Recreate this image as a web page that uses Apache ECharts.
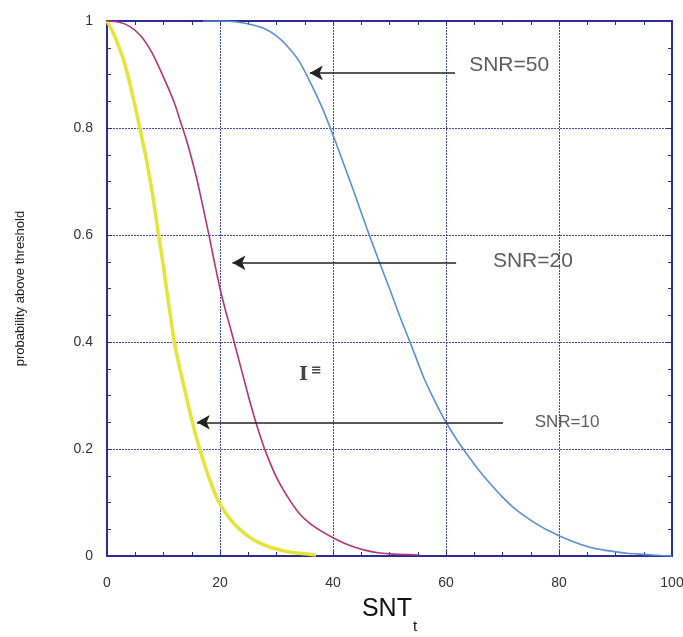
<!DOCTYPE html>
<html>
<head>
<meta charset="utf-8">
<script src="https://cdn.jsdelivr.net/npm/echarts@6/dist/echarts.min.js"></script>
<style>
  html, body { margin: 0; padding: 0; background: #fff; }
  #chart { width: 683px; height: 637px; }
</style>
</head>
<body>
<div id="chart"></div>
<script>
// curve points [SNT_t, probability]
var snr10 = [[0, 1], [1, 0.98], [2, 0.955], [3, 0.925], [4, 0.885], [5, 0.84], [6, 0.79], [7, 0.74],
  [8, 0.68], [9, 0.61], [10, 0.54], [11, 0.465], [12, 0.395], [13, 0.345], [14, 0.3], [15, 0.255],
  [16, 0.215], [17, 0.18], [18, 0.148], [19, 0.12], [20, 0.097], [22, 0.066], [24, 0.045],
  [26, 0.03], [28, 0.02], [30, 0.013], [32, 0.008], [34, 0.005], [37, 0.002]];
var snr20 = [[0, 1], [2, 0.998], [4, 0.99], [6, 0.972], [8, 0.94], [10, 0.895], [12, 0.845],
  [13, 0.812], [14, 0.78], [15, 0.742], [16, 0.7], [17, 0.652], [18, 0.602], [19, 0.55], [20, 0.5],
  [21, 0.458], [22, 0.42], [23, 0.38], [24, 0.34], [25, 0.3], [26, 0.262], [27, 0.228], [28, 0.197],
  [30, 0.147], [32, 0.11], [34, 0.08], [36, 0.06], [38, 0.046], [40, 0.034], [42, 0.024],
  [44, 0.016], [46, 0.01], [48, 0.006], [50, 0.004], [52, 0.003], [55, 0.002]];
var snr50 = [[17, 1], [20, 1], [23, 0.998], [26, 0.992], [28, 0.985], [30, 0.972], [32, 0.952],
  [34, 0.925], [36, 0.885], [38, 0.84], [40, 0.787], [42, 0.73], [44, 0.672], [46, 0.612],
  [48, 0.555], [50, 0.5], [52, 0.443], [54, 0.39], [56, 0.335], [58, 0.29], [60, 0.25],
  [62, 0.216], [64, 0.186], [66, 0.158], [68, 0.133], [70, 0.11], [72, 0.09], [74, 0.074],
  [76, 0.06], [78, 0.048], [80, 0.038], [82, 0.029], [84, 0.021], [86, 0.015], [88, 0.011],
  [90, 0.008], [92, 0.005], [95, 0.003], [98, 0.001], [100, 0]];

// arrows: [tail x, head x, y]  and labels: [x, y, text, font size]
var arrows = [[61.6, 35.9, 0.903], [61.8, 22.2, 0.548], [70.1, 15.9, 0.25]];
var arrowLabels = [[64.1, 0.918, 'SNR=50', 21], [68.3, 0.551, 'SNR=20', 21], [75.7, 0.25, 'SNR=10', 17]];

var xTicks = [0, 20, 40, 60, 80, 100];
var yTicks = [0, 0.2, 0.4, 0.6, 0.8, 1];

var frame = '#2c2c96';
var gridCol = '#4a4aa6';

var chart = echarts.init(document.getElementById('chart'));

function axisBase(isX, main) {
  return {
    type: 'value',
    min: 0,
    max: isX ? xTicks[xTicks.length - 1] : yTicks[yTicks.length - 1],
    interval: isX ? xTicks[1] - xTicks[0] : yTicks[1] - yTicks[0],
    axisLine: { show: true, onZero: false, lineStyle: { color: frame, width: 2 } },
    axisTick: { show: true, inside: true, length: 5, lineStyle: { color: frame, width: 1 } },
    minorTick: { show: true, splitNumber: 4, length: 4, lineStyle: { color: frame, width: 1 } },
    axisLabel: {
      show: main,
      color: '#333',
      fontFamily: 'Liberation Sans',
      fontSize: 14,
      margin: isX ? 20 : 14
    },
    splitLine: main ? { show: true, lineStyle: { color: gridCol, width: 1, type: [2, 1] } } : { show: false }
  };
}

var xMain = axisBase(true, true);
xMain.position = 'bottom';
xMain.name = '{m|SNT}{s|t}';
xMain.nameLocation = 'middle';
xMain.nameGap = 29;
xMain.nameTextStyle = {
  rich: {
    m: { fontSize: 25, color: '#111', fontFamily: 'Liberation Sans' },
    s: { fontSize: 15, color: '#111', fontFamily: 'Liberation Sans', padding: [34, 0, 0, 1] }
  }
};
var xTop = axisBase(true, false);
xTop.position = 'top';

var yMain = axisBase(false, true);
yMain.position = 'left';
yMain.name = 'probability above threshold';
yMain.nameLocation = 'middle';
yMain.nameGap = 80;
yMain.nameTextStyle = { fontSize: 13, color: '#222', fontFamily: 'Liberation Sans' };
var yRight = axisBase(false, false);
yRight.position = 'right';

var option = {
  backgroundColor: '#fff',
  animation: false,
  grid: { left: 107, right: 11, top: 21, bottom: 81, containLabel: false, outerBoundsMode: 'none' },
  xAxis: [xMain, xTop],
  yAxis: [yMain, yRight],
  series: [
    {
      name: 'SNR=10',
      type: 'line',
      data: snr10,
      showSymbol: false,
      smooth: 0.2,
      lineStyle: { color: '#e4e43a', width: 3.5 },
      z: 3
    },
    {
      name: 'SNR=20',
      type: 'line',
      data: snr20,
      showSymbol: false,
      smooth: 0.2,
      lineStyle: { color: '#b2357a', width: 1.6 },
      z: 3
    },
    {
      name: 'SNR=50',
      type: 'line',
      data: snr50,
      showSymbol: false,
      smooth: 0.2,
      lineStyle: { color: '#5b8fd4', width: 1.6 },
      z: 3,
      markLine: {
        silent: true,
        symbol: ['none', 'arrow'],
        symbolSize: [11, 13],
        label: { show: false },
        lineStyle: { color: '#222', width: 1.5, type: 'solid' },
        data: arrows.map(function (a) {
          return [{ coord: [a[0], a[2]] }, { coord: [a[1], a[2]] }];
        })
      }
    },
    {
      name: 'labels',
      type: 'scatter',
      symbolSize: 0,
      silent: true,
      data: arrowLabels.map(function (l) {
        return { value: [l[0], l[1]], name: l[2], label: { fontSize: l[3] } };
      }),
      label: {
        show: true,
        position: 'right',
        distance: 0,
        formatter: '{b}',
        color: '#333',
        fontFamily: 'Liberation Sans'
      }
    }
  ],
  graphic: [
    {
      type: 'text',
      left: 299,
      top: 366,
      style: { text: 'I', font: 'bold 19px "DejaVu Serif"', fill: '#444' }
    },
    {
      type: 'text',
      left: 311,
      top: 364,
      style: { text: '≡', font: 'bold 13px "DejaVu Sans"', fill: '#444' }
    }
  ]
};

chart.setOption(option);
</script>
</body>
</html>
